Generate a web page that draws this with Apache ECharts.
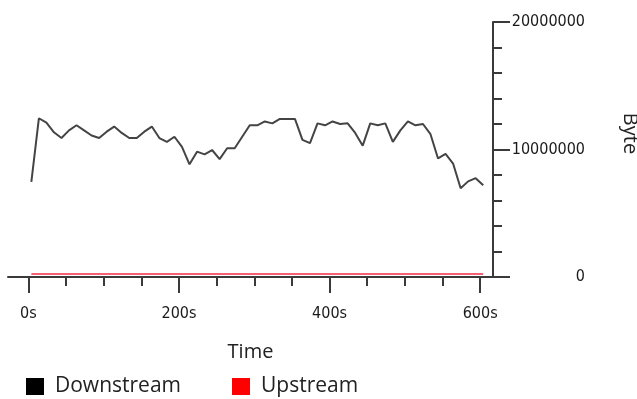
<!DOCTYPE html>
<html>
<head>
<meta charset="utf-8">
<script src="https://cdn.jsdelivr.net/npm/echarts@6/dist/echarts.min.js"></script>
<style>
  html, body { margin: 0; padding: 0; background: #fff; }
  #chart { width: 637px; height: 399px; }
</style>
</head>
<body>
<div id="chart"></div>
<script>
// sample times in seconds
var times = [4, 14, 24, 34, 44, 54, 64, 74, 84, 94,
  104, 114, 124, 134, 144, 154, 164, 174, 184, 194,
  204, 214, 224, 234, 244, 254, 264, 274, 284, 294,
  304, 314, 324, 334, 344, 354, 364, 374, 384, 394,
  404, 414, 424, 434, 444, 454, 464, 474, 484, 494,
  504, 514, 524, 534, 544, 554, 564, 574, 584, 594, 604];

var downstream = [7470000, 12450000, 12100000, 11350000, 10900000, 11500000, 11900000, 11500000, 11100000, 10900000,
  11400000, 11800000, 11300000, 10900000, 10900000, 11400000, 11800000, 10900000, 10600000, 11000000,
  10200000, 8840000, 9830000, 9620000, 9960000, 9250000, 10100000, 10100000, 11000000, 11900000,
  11900000, 12200000, 12050000, 12400000, 12400000, 12400000, 10750000, 10500000, 12050000, 11900000,
  12200000, 12000000, 12050000, 11300000, 10300000, 12050000, 11900000, 12050000, 10600000, 11500000,
  12200000, 11900000, 12000000, 11200000, 9300000, 9650000, 8900000, 6960000, 7500000, 7750000, 7200000];

var upstream = [230000, 230000, 230000, 230000, 230000, 230000, 230000, 230000, 230000, 230000,
  230000, 230000, 230000, 230000, 230000, 230000, 230000, 230000, 230000, 230000,
  230000, 230000, 230000, 230000, 230000, 230000, 230000, 230000, 230000, 230000,
  230000, 230000, 230000, 230000, 230000, 230000, 230000, 230000, 230000, 230000,
  230000, 230000, 230000, 230000, 230000, 230000, 230000, 230000, 230000, 230000,
  230000, 230000, 230000, 230000, 230000, 230000, 230000, 230000, 230000, 230000, 230000];

var timeTicks = [0, 50, 100, 150, 200, 250, 300, 350, 400, 450, 500, 550, 600];
var timeLabels = [0, 200, 400, 600];

function pairs(xs, ys) {
  return xs.map(function (x, i) { return [x, ys[i]]; });
}

var axisColor = '#3a3a3a';
var labelFont = 'DejaVu Sans Condensed, Liberation Sans Narrow, sans-serif';
var textFont = 'Open Sans, sans-serif';

var myChart = echarts.init(document.getElementById('chart'), null, { renderer: 'canvas' });

myChart.setOption({
  animation: false,
  grid: { left: 8, right: 144, top: 22, bottom: 122, outerBoundsMode: 'none' },
  legend: {
    left: 21, top: 371,
    icon: 'rect', itemWidth: 18, itemHeight: 17, itemGap: 51,
    textStyle: { fontFamily: textFont, fontSize: 21, color: '#222', padding: [0, 0, 0, 6] },
    data: [
      { name: 'Downstream', itemStyle: { color: '#000' } },
      { name: 'Upstream', itemStyle: { color: '#ff0000' } }
    ]
  },
  xAxis: [{
    type: 'value', min: -27, max: 617,
    name: 'Time', nameLocation: 'middle', nameGap: 65,
    nameTextStyle: { fontFamily: textFont, fontSize: 20, color: '#222' },
    axisLine: { lineStyle: { color: axisColor, width: 2 } },
    axisTick: { show: true, customValues: timeTicks, length: 9, lineStyle: { color: axisColor, width: 2 } },
    axisLabel: {
      customValues: timeLabels, formatter: '{value}s', margin: 29,
      fontFamily: labelFont, fontSize: 16, color: '#1a1a1a'
    },
    splitLine: { show: false }
  }, {
    type: 'value', min: -27, max: 617, position: 'bottom', offset: 0,
    axisLine: { show: false },
    axisTick: { show: true, customValues: timeLabels, length: 16, lineStyle: { color: axisColor, width: 2 } },
    axisLabel: { show: false },
    splitLine: { show: false }
  }],
  yAxis: {
    type: 'value', position: 'right', min: 0, max: 20000000, interval: 10000000,
    name: 'Byte', nameLocation: 'middle', nameGap: 127, nameRotate: -90,
    nameTextStyle: { fontFamily: textFont, fontSize: 20, color: '#222', padding: [0, 32, 0, 0] },
    axisLine: { show: true, onZero: false, lineStyle: { color: axisColor, width: 2 } },
    axisTick: { show: true, length: 17, lineStyle: { color: axisColor, width: 2 } },
    minorTick: { show: true, splitNumber: 5, length: 9, lineStyle: { color: axisColor, width: 2 } },
    axisLabel: {
      margin: 92, align: 'right',
      formatter: function (v) { return String(v); },
      fontFamily: labelFont, fontSize: 16, color: '#1a1a1a'
    },
    splitLine: { show: false }
  },
  series: [{
    name: 'Downstream', type: 'line', showSymbol: false,
    itemStyle: { color: '#000' },
    lineStyle: { color: '#444', width: 2 },
    data: pairs(times, downstream)
  }, {
    name: 'Upstream', type: 'line', showSymbol: false,
    itemStyle: { color: '#ff0000' },
    lineStyle: { color: '#f23a50', width: 2, opacity: 0.8 },
    data: pairs(times, upstream)
  }]
});
</script>
</body>
</html>
